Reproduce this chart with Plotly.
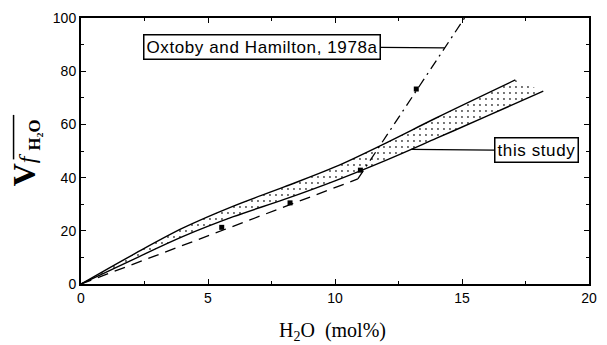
import plotly.graph_objects as go

# "this study" band (upper and lower bounds)
upper_x = [0, 2, 4, 6, 8, 10, 12, 14, 17.1]
upper_y = [0, 10.8, 21, 29.3, 36.5, 44, 53, 62.5, 76.7]
lower_x = [0, 2, 4, 6, 8, 10, 12, 14, 16, 18.2]
lower_y = [0, 9, 17.8, 25.3, 31.8, 38.8, 46.5, 54.8, 63.2, 72.5]

# Oxtoby and Hamilton, 1978a
oh_line1_x = [0, 10.9]
oh_line1_y = [0, 39.5]
oh_line2_x = [10.9, 15.1]
oh_line2_y = [39.5, 100]
oh_pts_x = [5.54, 8.23, 11.0, 13.2]
oh_pts_y = [21.3, 30.5, 42.8, 73.3]

x_ticks = [0, 5, 10, 15, 20]
y_ticks = [0, 20, 40, 60, 80, 100]

W, H = 607, 345
L, R, T, B = 81, 10, 15, 61
pw, ph = W - L - R, H - T - B

fig = go.Figure()
fig.add_trace(go.Scatter(x=lower_x, y=lower_y, mode="lines",
                         line=dict(color="black", width=1.4, shape="spline", smoothing=1.0),
                         showlegend=False, hoverinfo="skip"))
fig.add_trace(go.Scatter(x=upper_x, y=upper_y, mode="lines",
                         line=dict(color="black", width=1.4, shape="spline", smoothing=1.0),
                         fill="tonexty", fillcolor="rgba(0,0,0,0)",
                         fillpattern=dict(shape=".", size=6, solidity=0.08,
                                          fgcolor="#444", bgcolor="white", fillmode="replace"),
                         showlegend=False, hoverinfo="skip"))
fig.add_trace(go.Scatter(x=oh_line1_x, y=oh_line1_y, mode="lines",
                         line=dict(color="black", width=1.3, dash="11px,7px"),
                         showlegend=False))
fig.add_trace(go.Scatter(x=oh_line2_x, y=oh_line2_y, mode="lines",
                         line=dict(color="black", width=1.3, dash="10px,5px,2px,5px"),
                         showlegend=False))
fig.add_trace(go.Scatter(x=oh_pts_x, y=oh_pts_y, mode="markers",
                         marker=dict(symbol="square", size=5, color="black"),
                         showlegend=False))

axis_common = dict(showline=True, linewidth=2, linecolor="black", mirror="ticks",
                   ticks="inside", ticklen=5, tickwidth=1.2, tickcolor="black",
                   showgrid=False, zeroline=False,
                   tickfont=dict(family="Liberation Sans, Arial", size=14, color="black"))

fig.update_xaxes(range=[0, 20], tickvals=x_ticks,
                 minor=dict(ticks="inside", ticklen=3, dtick=2.5, tickcolor="black", showgrid=False),
                 **axis_common)
fig.update_yaxes(range=[0, 100], tickvals=y_ticks,
                 minor=dict(ticks="inside", ticklen=3, dtick=10, tickcolor="black", showgrid=False),
                 **axis_common)

def px_to_paper(px, py):
    return (px - L) / pw, (H - B - py) / ph

annots = []
# Oxtoby label with leader line to the dashed line
annots.append(dict(x=14.32, y=88.8, xref="x", yref="y",
                   text='<span style="letter-spacing:0.6px">Oxtoby and Hamilton, 1978a</span>',
                   showarrow=True, arrowhead=0,
                   arrowwidth=1.2, arrowcolor="black", ax=-183, ay=-1, standoff=0,
                   font=dict(family="Liberation Sans, Arial", size=17, color="black"),
                   bordercolor="black", borderwidth=1.5, borderpad=2, bgcolor="white"))
annots.append(dict(x=13.0, y=50.6, xref="x", yref="y",
                   text='<span style="letter-spacing:0.6px">this study</span>',
                   showarrow=True, arrowhead=0,
                   arrowwidth=1.2, arrowcolor="black", ax=125, ay=1, standoff=0,
                   font=dict(family="Liberation Sans, Arial", size=17, color="black"),
                   bordercolor="black", borderwidth=1.5, borderpad=2, bgcolor="white"))
# axis titles
xt, yt = px_to_paper(336, 332)
annots.append(dict(x=xt, y=yt, xref="paper", yref="paper", showarrow=False,
                   text="H<sub>2</sub>O  (mol%)", xanchor="center", yanchor="middle",
                   font=dict(family="Liberation Serif, Times New Roman", size=20, color="black")))
xt, yt = px_to_paper(25, 151)
annots.append(dict(x=xt, y=yt, xref="paper", yref="paper", showarrow=False, textangle=-90,
                   text='<span style="font-size:32px"><b>V</b></span>'
                        '<i>f</i> <sub><b>H₂O</b></sub>',
                   xanchor="center", yanchor="middle",
                   font=dict(family="Liberation Serif, Times New Roman", size=24, color="black")))

# overline of the radical in the y title
x0p, y0p = px_to_paper(12.5, 158)
x1p, y1p = px_to_paper(12.5, 113)
shapes = [dict(type="line", xref="paper", yref="paper", x0=x0p, y0=y0p, x1=x1p, y1=y1p,
               line=dict(color="black", width=1.5))]

fig.update_layout(width=W, height=H, margin=dict(l=L, r=R, t=T, b=B),
                  plot_bgcolor="white", paper_bgcolor="white",
                  annotations=annots, shapes=shapes, showlegend=False)

fig.write_html("out.html")
